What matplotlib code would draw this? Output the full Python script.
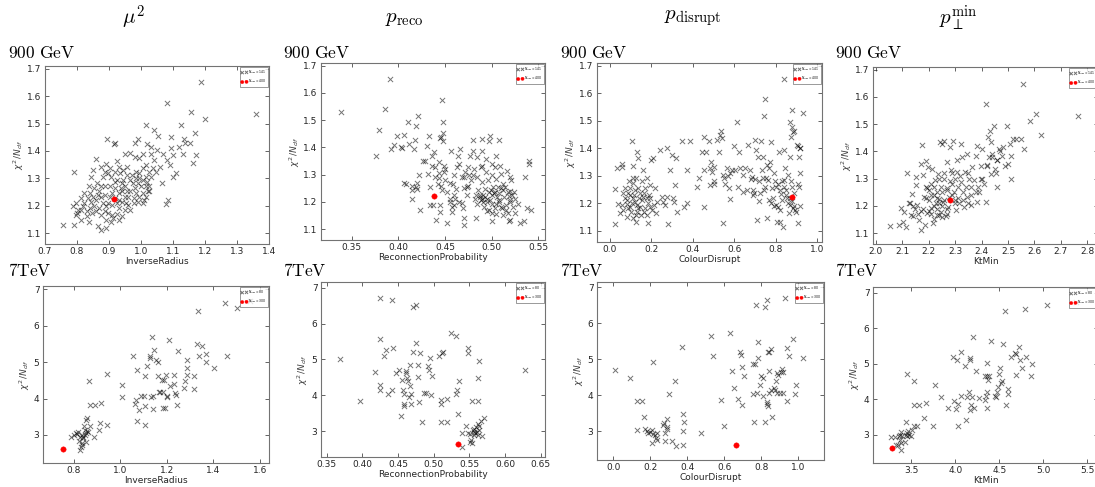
import numpy as np
import matplotlib
matplotlib.use("Agg")
import matplotlib.pyplot as plt

plt.rcParams['mathtext.fontset'] = 'dejavusans'

# ---------------- data: 900 GeV (top row) ----------------
top_mu2 = [(0.756,1.128),(0.79,1.13),(0.79,1.322),(1.186,1.652),(1.36,1.534),(1.2,1.515),(1.155,1.542),(1.08,1.576),(1.126,1.494),(1.168,1.464),(1.042,1.478),(1.015,1.494),(1.052,1.454),(1.135,1.442),(1.138,1.428),(1.152,1.428),(1.12,1.413),(1.095,1.45),(1.132,1.39),(1.172,1.384),(1.164,1.354),(1.05,1.403),(1.03,1.415),(1.02,1.425),(0.99,1.443),(0.98,1.427),(0.92,1.43),(0.915,1.425),(0.895,1.442),(1.095,1.41),(1.1,1.385),(1.08,1.367),(1.068,1.39),(1.09,1.35),(1.03,1.39),(1.005,1.39),(0.995,1.373),(0.965,1.393),(0.95,1.39),(0.98,1.376),(1.067,1.282),(1.077,1.207),(1.085,1.219),(1.1,1.304),(1.11,1.32),(0.86,1.369),(0.875,1.342),(0.89,1.352),(0.925,1.364),(0.85,1.33),(0.845,1.306),(0.836,1.27),(0.823,1.245),(0.812,1.227),(0.796,1.209),(0.788,1.197),(0.8,1.173),(0.812,1.148),(0.836,1.139),(0.866,1.124),(0.876,1.112),(0.89,1.12),(0.905,1.139),(0.84,1.191),(0.846,1.173),(0.83,1.161),(0.86,1.179),(0.87,1.191),(0.887,1.179),(0.897,1.173),(0.908,1.167),(0.924,1.17),(0.94,1.163),(0.93,1.191),(0.95,1.185),(0.967,1.185),(0.96,1.203),(0.978,1.209),(0.994,1.233),(1.005,1.245),(1.01,1.221),(1.026,1.252),(1.015,1.27),(1.02,1.288),(1.031,1.306),(1.026,1.27),(1.0,1.27),(0.99,1.282),(0.98,1.264),(0.967,1.252),(0.95,1.27),(0.94,1.282),(0.925,1.294),(0.907,1.306),(0.897,1.318),(0.88,1.306),(0.864,1.282),(0.853,1.264),(0.87,1.252),(0.887,1.24),(0.903,1.233),(0.92,1.227),(0.93,1.245),(0.936,1.264),(0.92,1.264),(0.903,1.27),(0.887,1.27),(0.876,1.233),(0.86,1.221),(0.845,1.215),(0.834,1.227),(0.882,1.209),(0.897,1.209),(0.908,1.203),(0.924,1.209),(0.94,1.215),(0.95,1.233),(0.96,1.233),(0.975,1.282),(0.985,1.3),(0.995,1.318),(1.005,1.336),(1.016,1.35),(1.037,1.336),(1.048,1.324),(1.058,1.342),(1.042,1.367),(0.945,1.33),(0.935,1.318),(0.955,1.312),(0.972,1.312),(0.955,1.342),(0.945,1.294),(0.967,1.294),(0.93,1.221),(0.876,1.167),(0.89,1.148),(0.913,1.155),(0.93,1.148),(0.89,1.197),(0.818,1.197),(0.812,1.185),(0.823,1.209),(0.83,1.179),(0.796,1.167),(0.803,1.185),(0.854,1.197),(0.908,1.245),(0.866,1.24),(0.84,1.245),(0.85,1.233),(0.94,1.252),(0.955,1.252),(0.985,1.245),(0.978,1.227),(0.992,1.215),(0.952,1.209),(1.005,1.209),(1.016,1.233),(1.021,1.252),(1.005,1.294),(0.995,1.3),(1.016,1.306),(1.026,1.324),(0.985,1.324),(0.93,1.342),(0.92,1.324),(0.903,1.336),(0.887,1.324),(0.918,1.288),(0.876,1.27)]

top_preco = [(0.338,1.53),(0.376,1.37),(0.379,1.463),(0.386,1.541),(0.391,1.65),(0.392,1.394),(0.395,1.41),(0.398,1.442),(0.403,1.402),(0.404,1.397),(0.406,1.446),(0.41,1.494),(0.411,1.414),(0.418,1.428),(0.417,1.394),(0.419,1.478),(0.421,1.515),(0.406,1.27),(0.408,1.264),(0.415,1.258),(0.415,1.245),(0.419,1.255),(0.42,1.249),(0.42,1.27),(0.415,1.212),(0.422,1.297),(0.423,1.17),(0.426,1.349),(0.428,1.351),(0.431,1.406),(0.433,1.442),(0.432,1.303),(0.434,1.255),(0.434,1.19),(0.437,1.19),(0.436,1.333),(0.439,1.327),(0.438,1.385),(0.436,1.37),(0.439,1.291),(0.44,1.134),(0.442,1.267),(0.443,1.307),(0.443,1.345),(0.445,1.434),(0.446,1.44),(0.448,1.454),(0.448,1.493),(0.447,1.573),(0.448,1.424),(0.443,1.289),(0.446,1.258),(0.447,1.243),(0.444,1.188),(0.445,1.164),(0.449,1.333),(0.449,1.309),(0.45,1.321),(0.45,1.279),(0.452,1.237),(0.452,1.122),(0.456,1.388),(0.455,1.2),(0.457,1.182),(0.457,1.164),(0.458,1.267),(0.46,1.225),(0.461,1.212),(0.462,1.246),(0.463,1.327),(0.464,1.37),(0.465,1.339),(0.466,1.394),(0.468,1.291),(0.468,1.197),(0.469,1.176),(0.47,1.14),(0.47,1.116),(0.471,1.309),(0.473,1.225),(0.473,1.255),(0.475,1.327),(0.476,1.297),(0.477,1.37),(0.478,1.279),(0.48,1.426),(0.48,1.388),(0.481,1.321),(0.482,1.212),(0.483,1.225),(0.483,1.14),(0.484,1.364),(0.484,1.291),(0.485,1.243),(0.487,1.225),(0.487,1.218),(0.488,1.327),(0.489,1.388),(0.489,1.273),(0.49,1.43),(0.491,1.225),(0.491,1.2),(0.492,1.182),(0.493,1.249),(0.494,1.358),(0.494,1.309),(0.495,1.212),(0.496,1.279),(0.497,1.17),(0.497,1.424),(0.498,1.442),(0.499,1.243),(0.5,1.339),(0.5,1.194),(0.5,1.128),(0.501,1.255),(0.502,1.231),(0.503,1.327),(0.503,1.176),(0.504,1.37),(0.505,1.285),(0.506,1.218),(0.507,1.255),(0.508,1.428),(0.508,1.2),(0.508,1.231),(0.509,1.333),(0.51,1.303),(0.511,1.176),(0.512,1.267),(0.513,1.218),(0.514,1.255),(0.515,1.17),(0.516,1.315),(0.517,1.237),(0.517,1.158),(0.518,1.128),(0.519,1.206),(0.52,1.291),(0.52,1.134),(0.521,1.279),(0.522,1.225),(0.523,1.182),(0.524,1.237),(0.525,1.158),(0.528,1.194),(0.53,1.124),(0.535,1.128),(0.536,1.291),(0.538,1.176),(0.54,1.351),(0.54,1.339),(0.542,1.17),(0.497,1.237),(0.5,1.225),(0.503,1.237),(0.508,1.206),(0.512,1.243),(0.498,1.206),(0.493,1.218),(0.488,1.206),(0.484,1.194),(0.49,1.212),(0.495,1.2),(0.505,1.194),(0.51,1.182),(0.515,1.19),(0.52,1.2),(0.518,1.22),(0.525,1.21),(0.455,1.21),(0.46,1.19),(0.465,1.2),(0.47,1.25),(0.475,1.26),(0.48,1.3),(0.46,1.3),(0.455,1.27),(0.47,1.29),(0.49,1.33),(0.5,1.3),(0.51,1.25),(0.52,1.24),(0.505,1.155),(0.512,1.15),(0.5,1.16),(0.495,1.165)]

top_pdis = [(0.024,1.124),(0.024,1.252),(0.032,1.33),(0.04,1.197),(0.056,1.333),(0.056,1.342),(0.048,1.164),(0.065,1.176),(0.073,1.255),(0.081,1.197),(0.089,1.237),(0.094,1.28),(0.097,1.188),(0.102,1.17),(0.105,1.428),(0.11,1.337),(0.113,1.294),(0.116,1.231),(0.121,1.206),(0.126,1.158),(0.126,1.134),(0.132,1.388),(0.137,1.364),(0.137,1.255),(0.142,1.218),(0.145,1.188),(0.153,1.28),(0.161,1.321),(0.166,1.237),(0.169,1.182),(0.177,1.291),(0.177,1.158),(0.182,1.128),(0.19,1.231),(0.194,1.267),(0.198,1.358),(0.206,1.364),(0.21,1.194),(0.218,1.255),(0.223,1.164),(0.226,1.206),(0.073,1.218),(0.084,1.212),(0.097,1.231),(0.089,1.182),(0.105,1.2),(0.113,1.218),(0.121,1.249),(0.129,1.194),(0.137,1.182),(0.145,1.237),(0.153,1.212),(0.161,1.225),(0.169,1.255),(0.177,1.218),(0.185,1.2),(0.194,1.188),(0.113,1.273),(0.126,1.291),(0.097,1.255),(0.065,1.237),(0.056,1.194),(0.081,1.152),(0.113,1.146),(0.132,1.17),(0.148,1.158),(0.164,1.17),(0.194,1.218),(0.202,1.176),(0.242,1.394),(0.25,1.225),(0.258,1.206),(0.266,1.194),(0.274,1.4),(0.277,1.225),(0.282,1.124),(0.29,1.321),(0.298,1.376),(0.306,1.218),(0.31,1.206),(0.315,1.267),(0.319,1.364),(0.323,1.17),(0.347,1.426),(0.355,1.188),(0.371,1.321),(0.374,1.2),(0.387,1.426),(0.419,1.258),(0.432,1.291),(0.444,1.388),(0.452,1.442),(0.456,1.321),(0.456,1.188),(0.465,1.388),(0.476,1.426),(0.481,1.327),(0.484,1.267),(0.487,1.349),(0.492,1.315),(0.5,1.282),(0.503,1.27),(0.503,1.333),(0.516,1.43),(0.524,1.388),(0.532,1.45),(0.535,1.464),(0.54,1.436),(0.545,1.128),(0.548,1.303),(0.552,1.291),(0.556,1.27),(0.565,1.327),(0.573,1.255),(0.581,1.217),(0.605,1.321),(0.613,1.494),(0.621,1.385),(0.642,1.303),(0.653,1.327),(0.665,1.412),(0.677,1.321),(0.685,1.297),(0.69,1.249),(0.697,1.237),(0.702,1.43),(0.706,1.394),(0.713,1.37),(0.718,1.28),(0.723,1.237),(0.729,1.426),(0.734,1.321),(0.739,1.291),(0.742,1.249),(0.745,1.517),(0.75,1.578),(0.755,1.291),(0.758,1.146),(0.761,1.285),(0.766,1.212),(0.771,1.352),(0.777,1.424),(0.782,1.255),(0.787,1.218),(0.794,1.309),(0.798,1.28),(0.803,1.194),(0.806,1.134),(0.81,1.188),(0.815,1.388),(0.819,1.176),(0.823,1.134),(0.826,1.234),(0.831,1.212),(0.835,1.116),(0.839,1.394),(0.842,1.285),(0.847,1.327),(0.852,1.249),(0.855,1.218),(0.858,1.303),(0.863,1.164),(0.868,1.194),(0.871,1.37),(0.874,1.28),(0.879,1.261),(0.884,1.182),(0.887,1.237),(0.895,1.176),(0.871,1.494),(0.879,1.476),(0.884,1.458),(0.887,1.464),(0.874,1.442),(0.879,1.541),(0.842,1.651),(0.903,1.414),(0.919,1.4),(0.93,1.53),(0.8,1.26),(0.81,1.27),(0.82,1.25),(0.83,1.28),(0.84,1.26),(0.85,1.23),(0.86,1.2),(0.87,1.22),(0.88,1.21),(0.89,1.19),(0.9,1.17),(0.91,1.27),(0.915,1.26),(0.92,1.19),(0.92,1.31),(0.915,1.37),(0.91,1.41),(0.92,1.4),(0.91,1.13),(0.78,1.2),(0.79,1.19),(0.75,1.26),(0.76,1.34),(0.77,1.33),(0.74,1.37),(0.72,1.21),(0.71,1.14),(0.7,1.29),(0.69,1.23),(0.68,1.29),(0.66,1.25),(0.64,1.24),(0.63,1.33),(0.62,1.26),(0.6,1.41),(0.59,1.32),(0.58,1.31),(0.57,1.3)]

top_ktmin = [(2.054,1.127),(2.088,1.13),(2.105,1.142),(2.113,1.122),(2.097,1.191),(2.107,1.179),(2.12,1.32),(2.126,1.209),(2.132,1.167),(2.139,1.245),(2.142,1.161),(2.151,1.306),(2.151,1.276),(2.157,1.203),(2.164,1.148),(2.17,1.112),(2.173,1.352),(2.176,1.425),(2.18,1.312),(2.183,1.233),(2.185,1.13),(2.189,1.364),(2.193,1.264),(2.195,1.173),(2.198,1.342),(2.202,1.221),(2.208,1.282),(2.21,1.191),(2.214,1.336),(2.218,1.136),(2.22,1.239),(2.223,1.296),(2.227,1.209),(2.23,1.167),(2.233,1.251),(2.236,1.318),(2.239,1.227),(2.243,1.433),(2.246,1.179),(2.248,1.27),(2.252,1.427),(2.256,1.215),(2.258,1.44),(2.26,1.3),(2.264,1.161),(2.268,1.264),(2.27,1.361),(2.273,1.197),(2.277,1.233),(2.281,1.415),(2.283,1.33),(2.29,1.282),(2.293,1.44),(2.296,1.251),(2.298,1.221),(2.302,1.185),(2.306,1.324),(2.309,1.367),(2.311,1.27),(2.315,1.209),(2.321,1.427),(2.324,1.288),(2.327,1.379),(2.331,1.251),(2.334,1.197),(2.336,1.324),(2.34,1.27),(2.344,1.233),(2.346,1.391),(2.349,1.209),(2.353,1.3),(2.359,1.239),(2.361,1.203),(2.365,1.342),(2.372,1.294),(2.378,1.385),(2.382,1.215),(2.384,1.421),(2.387,1.27),(2.39,1.251),(2.397,1.348),(2.399,1.3),(2.403,1.409),(2.409,1.282),(2.416,1.215),(2.418,1.573),(2.422,1.348),(2.426,1.452),(2.428,1.379),(2.432,1.476),(2.435,1.318),(2.437,1.433),(2.441,1.391),(2.447,1.494),(2.45,1.336),(2.453,1.321),(2.457,1.27),(2.46,1.367),(2.466,1.409),(2.47,1.403),(2.479,1.385),(2.482,1.415),(2.487,1.348),(2.497,1.494),(2.5,1.355),(2.508,1.427),(2.51,1.385),(2.513,1.3),(2.52,1.445),(2.529,1.445),(2.548,1.445),(2.558,1.648),(2.56,1.409),(2.582,1.512),(2.605,1.539),(2.626,1.461),(2.765,1.53),(2.2,1.18),(2.21,1.17),(2.22,1.2),(2.23,1.19),(2.24,1.21),(2.25,1.2),(2.26,1.22),(2.27,1.19),(2.19,1.23),(2.18,1.19),(2.17,1.18),(2.16,1.17),(2.15,1.19),(2.14,1.2),(2.13,1.21),(2.25,1.25),(2.27,1.26),(2.29,1.24),(2.31,1.23),(2.33,1.22),(2.28,1.29),(2.3,1.3),(2.32,1.31),(2.26,1.32),(2.24,1.3),(2.22,1.27),(2.2,1.26),(2.23,1.23),(2.21,1.24),(2.19,1.27),(2.29,1.32),(2.3,1.21),(2.27,1.17),(2.25,1.16),(2.22,1.15),(2.24,1.165),(2.36,1.27),(2.38,1.25),(2.4,1.3),(2.42,1.35),(2.35,1.32),(2.44,1.38),(2.46,1.37)]

top_best = [(0.917, 1.223), (0.438, 1.223), (0.88, 1.222), (2.28, 1.222)]

# ---------------- data: 7 TeV (bottom row) ----------------
bot_mu2 = [(0.787,2.94),(0.8,3.0),(0.811,3.05),(0.819,3.09),(0.826,2.95),(0.822,2.84),(0.826,2.59),(0.829,2.68),(0.833,2.72),(0.837,2.77),(0.84,2.95),(0.843,3.25),(0.847,3.14),(0.847,3.0),(0.852,3.05),(0.852,2.82),(0.854,3.41),(0.857,3.46),(0.862,3.09),(0.857,3.12),(0.84,2.91),(0.833,3.0),(0.814,3.02),(0.866,4.47),(0.869,3.25),(0.869,3.83),(0.89,3.83),(0.886,2.95),(0.908,3.14),(0.912,3.34),(0.915,3.89),(0.943,4.67),(0.943,3.26),(1.005,4.38),(1.005,4.04),(1.055,5.16),(1.062,3.85),(1.069,3.96),(1.072,4.79),(1.072,3.39),(1.081,3.69),(1.091,4.06),(1.1,4.06),(1.105,3.8),(1.108,4.61),(1.108,3.26),(1.113,4.9),(1.128,5.11),(1.128,5.16),(1.132,4.04),(1.136,5.69),(1.139,4.06),(1.142,3.72),(1.145,5.32),(1.152,5.06),(1.163,5.0),(1.163,4.62),(1.168,4.17),(1.172,4.17),(1.178,4.52),(1.182,4.17),(1.185,3.73),(1.189,4.5),(1.192,3.73),(1.195,4.64),(1.2,4.06),(1.2,4.03),(1.21,5.61),(1.215,4.35),(1.232,4.65),(1.232,4.39),(1.235,4.15),(1.24,4.09),(1.244,3.83),(1.247,5.31),(1.275,4.28),(1.28,4.47),(1.285,4.64),(1.288,4.83),(1.288,5.06),(1.316,4.62),(1.318,4.26),(1.328,5.5),(1.335,6.39),(1.337,5.17),(1.353,5.43),(1.367,5.23),(1.37,4.99),(1.402,4.83),(1.449,6.62),(1.461,5.17),(1.503,6.49),(1.56,6.68)]

bot_preco = [(0.368,5.01),(0.397,3.85),(0.417,4.64),(0.425,6.7),(0.425,5.56),(0.425,4.28),(0.425,4.16),(0.43,5.09),(0.433,5.26),(0.436,4.03),(0.443,5.33),(0.442,6.66),(0.442,4.16),(0.447,4.63),(0.452,4.7),(0.454,3.43),(0.456,4.44),(0.457,4.16),(0.458,4.03),(0.458,3.77),(0.458,3.7),(0.461,4.68),(0.461,4.63),(0.462,4.49),(0.464,4.4),(0.466,3.96),(0.467,4.26),(0.467,4.84),(0.468,3.77),(0.468,4.03),(0.471,5.21),(0.471,6.47),(0.475,6.52),(0.475,5.47),(0.478,4.52),(0.478,4.84),(0.479,3.82),(0.481,5.19),(0.484,3.26),(0.486,4.07),(0.489,4.07),(0.492,4.81),(0.494,4.7),(0.495,5.03),(0.496,4.0),(0.498,4.53),(0.51,3.87),(0.51,3.75),(0.508,5.09),(0.512,5.17),(0.513,5.21),(0.51,3.26),(0.519,3.91),(0.519,3.26),(0.524,5.74),(0.531,5.65),(0.531,4.03),(0.532,4.16),(0.535,4.4),(0.534,3.47),(0.548,5.17),(0.548,5.33),(0.54,2.56),(0.545,3.15),(0.54,2.95),(0.548,2.95),(0.551,2.7),(0.552,2.75),(0.553,2.66),(0.551,2.93),(0.555,3.03),(0.556,2.98),(0.557,3.07),(0.558,2.95),(0.559,3.12),(0.561,2.98),(0.562,2.89),(0.563,3.03),(0.564,3.15),(0.556,2.89),(0.568,2.87),(0.566,3.29),(0.57,3.38),(0.562,3.21),(0.553,3.85),(0.562,3.85),(0.562,4.49),(0.564,4.95),(0.628,4.7)]

bot_pdis = [(0.009,4.7),(0.09,4.49),(0.126,3.85),(0.153,3.85),(0.13,3.03),(0.168,3.4),(0.171,3.05),(0.18,3.01),(0.189,2.95),(0.198,2.98),(0.207,3.03),(0.213,4.93),(0.216,2.93),(0.207,2.67),(0.225,2.89),(0.231,2.8),(0.238,2.95),(0.234,2.75),(0.27,3.17),(0.274,3.24),(0.279,2.95),(0.279,2.73),(0.288,3.07),(0.292,3.33),(0.292,3.12),(0.303,4.03),(0.315,2.73),(0.333,4.4),(0.339,2.59),(0.369,5.35),(0.375,2.63),(0.378,3.0),(0.378,3.47),(0.382,3.26),(0.472,2.95),(0.528,5.65),(0.54,5.09),(0.58,3.87),(0.6,3.15),(0.631,5.74),(0.64,4.67),(0.654,4.19),(0.676,3.91),(0.685,5.19),(0.688,5.12),(0.694,3.74),(0.694,4.78),(0.706,4.53),(0.753,4.03),(0.757,4.87),(0.766,4.87),(0.76,3.26),(0.771,6.52),(0.775,4.07),(0.784,5.47),(0.784,5.03),(0.793,4.28),(0.796,4.53),(0.807,3.98),(0.811,4.49),(0.82,6.45),(0.82,3.26),(0.829,6.66),(0.829,3.82),(0.832,3.75),(0.838,3.7),(0.838,5.19),(0.843,5.21),(0.843,4.07),(0.843,4.67),(0.85,4.16),(0.85,5.28),(0.856,3.4),(0.868,4.19),(0.874,4.14),(0.879,4.4),(0.883,4.63),(0.886,4.07),(0.892,4.56),(0.9,4.07),(0.905,4.66),(0.91,4.72),(0.915,4.07),(0.919,4.66),(0.928,6.7),(0.937,5.31),(0.94,3.85),(0.951,5.09),(0.969,5.56),(0.982,4.03),(0.987,4.28),(1.027,5.03)]

bot_ktmin = [(3.276,2.93),(3.313,2.93),(3.325,2.72),(3.35,2.72),(3.358,2.95),(3.369,3.0),(3.381,3.07),(3.369,2.86),(3.381,2.58),(3.388,2.77),(3.396,2.95),(3.425,2.78),(3.444,3.0),(3.444,3.35),(3.455,3.05),(3.455,2.97),(3.463,3.09),(3.455,4.71),(3.481,3.0),(3.493,2.95),(3.507,3.14),(3.53,4.5),(3.53,3.84),(3.537,3.23),(3.567,3.25),(3.593,3.84),(3.642,3.47),(3.668,3.89),(3.743,3.25),(3.769,4.41),(3.836,4.05),(3.918,3.75),(3.978,5.18),(3.985,3.96),(4.004,3.72),(4.022,5.11),(4.03,3.25),(4.03,3.87),(4.06,4.08),(4.067,5.34),(4.116,4.94),(4.123,3.4),(4.134,4.05),(4.153,4.19),(4.164,3.7),(4.172,5.15),(4.172,5.11),(4.179,3.84),(4.19,4.05),(4.201,5.74),(4.216,3.75),(4.239,4.78),(4.265,4.03),(4.34,3.98),(4.34,4.66),(4.351,4.08),(4.358,3.75),(4.358,4.64),(4.366,5.03),(4.366,4.19),(4.377,4.53),(4.388,4.66),(4.403,5.65),(4.451,4.1),(4.463,4.05),(4.47,4.19),(4.489,4.34),(4.5,4.71),(4.507,4.87),(4.515,4.45),(4.526,4.5),(4.537,5.56),(4.563,6.47),(4.575,3.84),(4.6,4.28),(4.6,4.15),(4.638,5.18),(4.675,5.31),(4.687,4.69),(4.694,5.28),(4.724,5.46),(4.731,5.11),(4.761,4.87),(4.787,6.53),(4.799,5.2),(4.862,4.66),(4.873,5.0),(5.037,6.65),(5.366,6.75)]

bot_best = [(0.754, 2.61), (0.534, 2.63), (0.661, 2.63), (3.287, 2.61)]

col_titles = [r"$\mu^2$", r"$p_{\rm reco}$", r"$p_{\rm disrupt}$", r"$p_\perp^{\rm min}$"]
x_labels = ["InverseRadius", "ReconnectionProbability", "ColourDisrupt", "KtMin"]
row_labels = [r"$\mathrm{900\ GeV}$", r"$\mathrm{7TeV}$"]
legend_labels = [[r"$N_{\rm runs}=141$", r"$N_{\rm runs}=400$"],
                 [r"$N_{\rm runs}=80$", r"$N_{\rm runs}=300$"]]

# ---------------- layout ----------------
W, H = 1095, 487
fig = plt.figure(figsize=(W / 100, H / 100), dpi=100)
fig.patch.set_facecolor("white")

def rect(l, r, t, b):
    return [l / W, 1 - b / H, (r - l) / W, (b - t) / H]

top_rects = [rect(45, 269, 66, 244), rect(321, 545, 63, 240), rect(597, 822, 63, 242), rect(873, 1098, 67, 244)]
bot_rects = [rect(43, 269, 286, 463), rect(321, 545, 282, 457), rect(597, 824, 282, 460), rect(873, 1098, 287, 463)]

top_xlims = [(0.7, 1.4), (0.317, 0.557), (-0.063, 1.024), (1.99, 2.84)]
bot_xlims = [(0.667, 1.64), (0.342, 0.656), (-0.088, 1.138), (3.067, 5.62)]
top_ylim = (1.06, 1.71)
bot_ylims = [(2.23, 7.09), (2.28, 7.16), (2.2, 7.15), (2.2, 7.16)]

top_xticks = [np.arange(0.7, 1.41, 0.1), np.arange(0.35, 0.56, 0.05), np.arange(0.0, 1.01, 0.2), np.arange(2.0, 2.81, 0.1)]
bot_xticks = [np.arange(0.8, 1.61, 0.2), np.arange(0.35, 0.651, 0.05), np.arange(0.0, 1.01, 0.2), np.arange(3.5, 5.51, 0.5)]

top_data = [top_mu2, top_preco, top_pdis, top_ktmin]
bot_data = [bot_mu2, bot_preco, bot_pdis, bot_ktmin]

spine_col = "0.45"

def draw(ax, pts, best, xlim, ylim, xticks, yticks, yfmt, xlabel, labels):
    arr = np.array(pts)
    ax.scatter(arr[:, 0], arr[:, 1], marker="x", s=14, c="k", alpha=0.55,
               linewidths=0.7, label=labels[0], zorder=2)
    ax.scatter([best[0]], [best[1]], marker="o", s=15, c="red",
               edgecolors="red", linewidths=0.3, label=labels[1], zorder=3)
    ax.set_xlim(*xlim)
    ax.set_ylim(*ylim)
    ax.set_xticks(xticks)
    ax.set_yticks(yticks)
    ax.set_xticklabels([f"{v:.2f}" if xlim[1] - xlim[0] < 0.5 else f"{v:.1f}" for v in xticks])
    ax.set_yticklabels([yfmt.format(v) for v in yticks])
    ax.tick_params(direction="in", top=True, right=True, labelsize=6.5,
                   length=3, width=0.5, colors="0.15", pad=2.5)
    for sp in ax.spines.values():
        sp.set_color(spine_col)
        sp.set_linewidth(0.8)
    ax.set_xlabel(xlabel, fontsize=6.5, labelpad=0.5, color="0.15")
    ax.set_ylabel(r"$\chi^2\,/N_{df}$", fontsize=6.5, labelpad=1, color="0.25")
    leg = ax.legend(loc="upper right", fontsize=2.2, scatterpoints=2,
                    frameon=True, borderpad=0.5, handletextpad=0.3,
                    labelspacing=0.6, markerscale=0.6, fancybox=False,
                    borderaxespad=0.3)
    leg.get_frame().set_edgecolor("0.3")
    leg.get_frame().set_linewidth(0.5)

for i in range(4):
    ax = fig.add_axes(top_rects[i])
    draw(ax, top_data[i], top_best[i], top_xlims[i], top_ylim, top_xticks[i],
         np.arange(1.1, 1.71, 0.1), "{:.1f}", x_labels[i], legend_labels[0])
    ax2 = fig.add_axes(bot_rects[i])
    draw(ax2, bot_data[i], bot_best[i], bot_xlims[i], bot_ylims[i], bot_xticks[i],
         np.arange(3, 8, 1), "{:.0f}", x_labels[i], legend_labels[1])

# row labels
row_x = [8, 283, 560, 835]
for i in range(4):
    fig.text(row_x[i] / W, 1 - 53 / H, row_labels[0], fontsize=12.5,
             ha="left", va="center", math_fontfamily="cm")
    fig.text(row_x[i] / W, 1 - 271 / H, row_labels[1], fontsize=12.5,
             ha="left", va="center", math_fontfamily="cm")

# column titles
title_x = [133, 404, 693, 958]
for i in range(4):
    fig.text(title_x[i] / W, 1 - 18 / H, col_titles[i], fontsize=15,
             ha="center", va="center", math_fontfamily="cm")

fig.savefig("out.png", dpi=100, facecolor="white")
